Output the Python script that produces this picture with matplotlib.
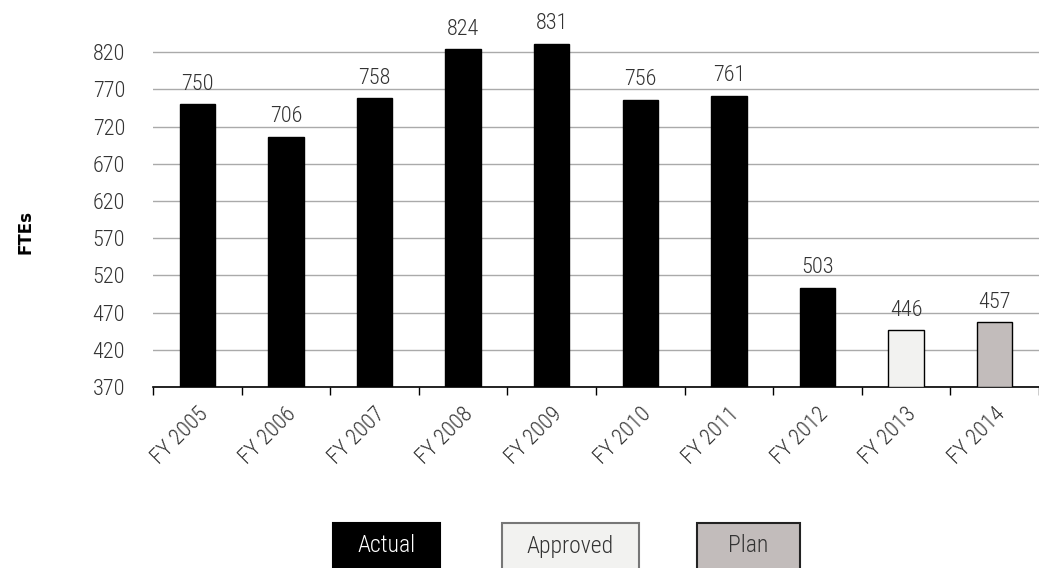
import matplotlib
matplotlib.use("Agg")
import matplotlib.pyplot as plt
from matplotlib.patches import Rectangle

years = ["FY 2005", "FY 2006", "FY 2007", "FY 2008", "FY 2009",
         "FY 2010", "FY 2011", "FY 2012", "FY 2013", "FY 2014"]
ftes = [750, 706, 758, 824, 831, 756, 761, 503, 446, 457]
status = ["Actual"] * 8 + ["Approved", "Plan"]

colors = {"Actual": "#000000", "Approved": "#f2f2f0", "Plan": "#c2bcbb"}

plt.rcParams["font.family"] = ["Roboto Condensed", "DejaVu Sans"]
txt = "#333333"

W, H = 1039, 568
fig = plt.figure(figsize=(W / 100, H / 100), dpi=100)
ax = fig.add_axes([153 / W, 1 - 387 / H, 1 - 153 / W, (387 - 15) / H])

x = list(range(len(years)))
bar_colors = [colors[s] for s in status]
ax.bar(x, [v - 370 for v in ftes], bottom=370, width=0.4, color=bar_colors,
       edgecolor="black", linewidth=1, zorder=3)

for xi, v in zip(x, ftes):
    ax.annotate(str(v), (xi, v), xytext=(0, 7), textcoords="offset points",
                ha="center", va="bottom", fontsize=16, fontweight="light",
                color=txt)

ax.set_ylim(370, 870)
ax.set_xlim(-0.5, 9.41)
ax.set_yticks(range(370, 821, 50))
ax.yaxis.grid(True, color="#aaaaaa", linewidth=1, zorder=0)
ax.tick_params(axis="y", length=0, labelsize=16, pad=20, labelcolor=txt)
for t in ax.get_yticklabels():
    t.set_fontweight("light")

ax.set_xticks([i - 0.5 for i in range(len(years) + 1)])
ax.set_xticklabels([])
ax.set_xticks(x, minor=True)
ax.set_xticklabels(years, minor=True, rotation=45, ha="right",
                   rotation_mode="anchor", fontsize=16, fontweight="light",
                   color=txt)
ax.tick_params(axis="x", which="major", direction="out", length=6, width=1)
ax.tick_params(axis="x", which="minor", length=0, pad=12)

for side in ["top", "right", "left"]:
    ax.spines[side].set_visible(False)
ax.spines["bottom"].set_linewidth(1.2)

fig.text(25 / W, 1 - 232 / H, "FTEs", rotation=90, ha="center", va="center",
         fontsize=12, fontweight="bold", family="DejaVu Sans")

# legend boxes: (label, left, right, face, text colour, edge colour)
legend_items = [("Actual", 333, 440, "#000000", "white", "#000000"),
                ("Approved", 502, 639, "#f2f2f0", txt, "#777777"),
                ("Plan", 697, 800, "#c2bcbb", txt, "#222222")]
for label, x0, x1, face, tc, ec in legend_items:
    fig.patches.append(Rectangle((x0 / W, -0.02), (x1 - x0) / W, (568 - 523) / H + 0.02,
                                 transform=fig.transFigure, facecolor=face,
                                 edgecolor=ec, linewidth=1.5))
    fig.text((x0 + x1) / 2 / W, 1 - 546 / H, label, ha="center", va="center",
             fontsize=17, fontweight="light", color=tc)

fig.savefig("out.png", dpi=100)
